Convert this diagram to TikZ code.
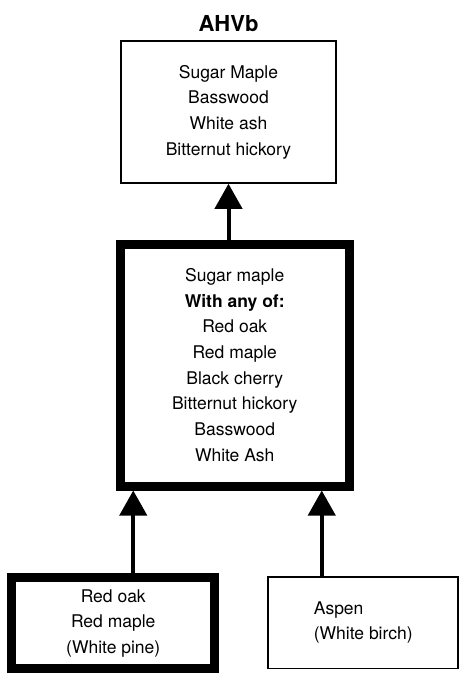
\documentclass[tikz,border=0pt]{standalone}
\usepackage{fontspec}
\setmainfont{TeX Gyre Heros}
\usetikzlibrary{arrows.meta, positioning}

\begin{document}
\begin{tikzpicture}[
        x=1pt, y=1pt,
        thinbox/.style={rectangle, draw, line width=1.6pt, align=center, inner sep=0pt,
            font=\fontsize{17.5}{25.7}\selectfont},
        thickbox/.style={thinbox, line width=9pt},
        up/.style={-{Triangle[length=25pt, width=27pt]}, line width=4pt},
        heading/.style={font=\fontsize{22}{26}\selectfont\bfseries}
    ]
        \useasboundingbox (0,0) rectangle (459,-673);

        % Middle stage
        \node[thickbox, minimum width=228.5pt, minimum height=242pt] (mid) at (234.75,-365)
            {Sugar maple\\ \textbf{With any of:}\\ Red oak\\ Red maple\\ Black cherry\\ Bitternut hickory\\ Basswood\\ White Ash};

        % Late stage
        \node[thinbox, minimum width=215pt, minimum height=142pt, above=55.75pt of mid, xshift=-6.25pt] (late)
            {Sugar Maple\\ Basswood\\ White ash\\ Bitternut hickory};
        \node[heading, above=8.5pt of late, anchor=base] (title) {AHVb};

        % Early stages
        \node[thickbox, minimum width=203pt, minimum height=91pt, below=82.75pt of mid, xshift=-121.5pt] (oak)
            {Red oak\\ Red maple\\ (White pine)};
        \node[thinbox, align=left, minimum width=190pt, minimum height=91.7pt, below=85.4pt of mid, xshift=128.5pt] (aspen)
            {Aspen\\ (White birch)};

        \draw[up] (late.south |- mid.north) -- (late.south);
        \draw[up] ([xshift=20pt]oak.north) -- ([xshift=20pt]oak.north |- mid.south);
        \draw[up] ([xshift=-41.5pt]aspen.north) -- ([xshift=-41.5pt]aspen.north |- mid.south);
\end{tikzpicture}
\end{document}
